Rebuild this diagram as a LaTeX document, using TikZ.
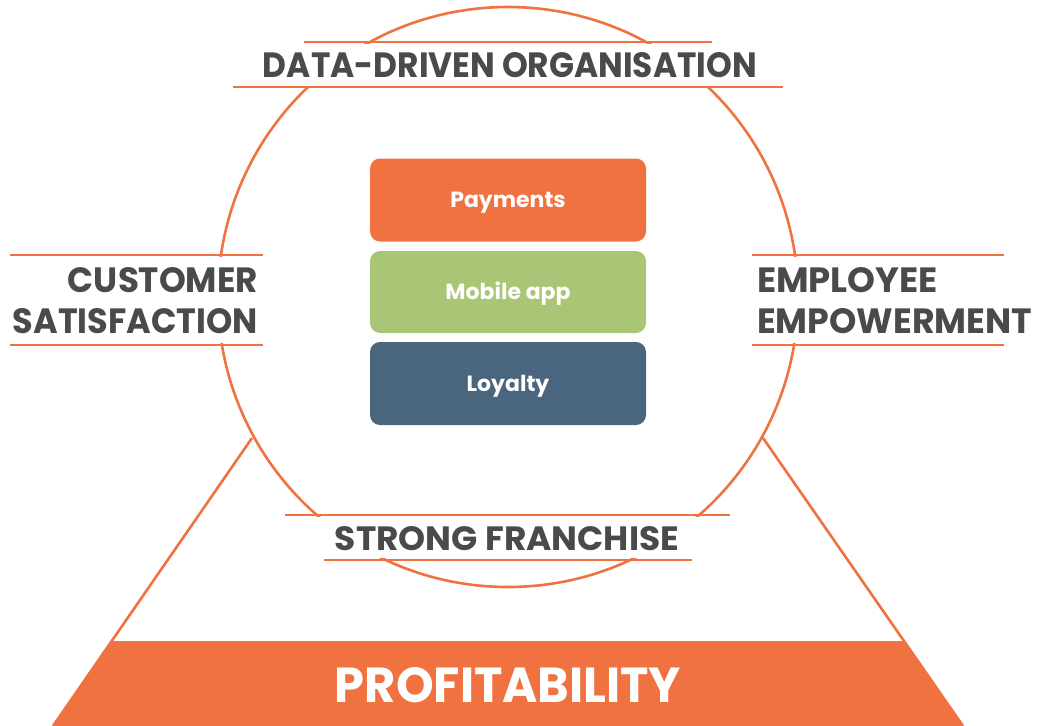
\documentclass[tikz,border=0pt]{standalone}
\usepackage{fontspec}
\setmainfont{Poppins}
\usepackage{graphicx}
\definecolor{org}{HTML}{F07240}
\definecolor{grn}{HTML}{A9C575}
\definecolor{blu}{HTML}{4A657E}
\definecolor{txt}{HTML}{4A4A4A}
\tikzset{
  rule/.style={draw=org, line width=2.6pt},
  lbl/.style={inner sep=0pt, outer sep=0pt, text=txt, font=\bfseries},
  pillar/.style={rounded corners=10pt, minimum width=276pt, inner sep=0pt, text height=15pt, text depth=0pt, text=white, font=\bfseries\fontsize{22}{26}\selectfont},
  mask/.style={fill=white, draw=none}
}
\begin{document}
\begin{tikzpicture}[x=1pt,y=-1pt]
\useasboundingbox (0,0) rectangle (1037,726);
% base trapezoid
\fill[org] (113,641) -- (904,641) -- (963,726) -- (53,726) -- cycle;
\coordinate (apexL) at (252,438);
\coordinate (apexR) at (763,438);
\coordinate (footL) at (53,726);
\coordinate (footR) at (963,726);
\draw[rule] (apexL) -- (footL);
\draw[rule] (apexR) -- (footR);
% circle
\draw[rule] (508,297) circle (290);
% masks between label rules
\fill[mask] (230,44) rectangle (786,86);
\fill[mask] (8,257) rectangle (265,343);
\fill[mask] (750,257) rectangle (1006,343);
\fill[mask] (283,517) rectangle (732,558);
% label rules
\draw[rule] (304,42) -- (712,42);
\draw[rule] (233,87) -- (783,87);
\draw[rule] (10,255) -- (263,255);
\draw[rule] (10,345) -- (263,345);
\draw[rule] (752,255) -- (1004,255);
\draw[rule] (752,345) -- (1004,345);
\draw[rule] (285,515) -- (730,515);
\draw[rule] (324,560) -- (692,560);
% labels
\node[lbl] (ddo) at (510,65) {\resizebox{494pt}{25pt}{DATA-DRIVEN ORGANISATION}};
\node[lbl, anchor=east] (cust) at (258,280.5) {\resizebox{190pt}{25pt}{CUSTOMER}};
\node[lbl, anchor=east] (sat) at (258,321) {\resizebox{245pt}{25pt}{SATISFACTION}};
\node[lbl, anchor=west] (emp) at (757,280.5) {\resizebox{181pt}{25pt}{EMPLOYEE}};
\node[lbl, anchor=west] (empw) at (757,321) {\resizebox{275pt}{25pt}{EMPOWERMENT}};
\node[lbl] (sf) at (507,538.5) {\resizebox{344pt}{24pt}{STRONG FRANCHISE}};
\node[lbl, text=white] (prof) at (508,685) {\resizebox{346pt}{35pt}{PROFITABILITY}};
% pillars
\node[pillar, fill=org, minimum height=83pt] (pay) at (508,200) {Payments};
\node[pillar, fill=grn, minimum height=82pt] (mob) at (508,292) {Mobile app};
\node[pillar, fill=blu, minimum height=83pt] (loy) at (508,383.5) {Loyalty};
\end{tikzpicture}
\end{document}
